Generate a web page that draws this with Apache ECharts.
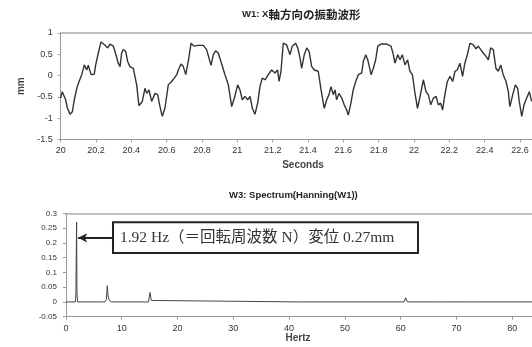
<!DOCTYPE html>
<html>
<head>
<meta charset="utf-8">
<script src="https://cdn.jsdelivr.net/npm/echarts@6.0.0/dist/echarts.min.js"></script>
<style>
  html, body { margin: 0; padding: 0; background: #fff; }
  #chart { width: 532px; height: 347px; }
</style>
</head>
<body>
<div id="chart"></div>
<script>
// W1: X-direction vibration waveform (time in seconds, displacement in mm)
const waveTime = [
  20.000, 20.009, 20.020, 20.028, 20.037, 20.053, 20.066, 20.077, 20.091, 20.104,
  20.119, 20.134, 20.147, 20.156, 20.172, 20.190, 20.198, 20.213, 20.228, 20.251,
  20.266, 20.279, 20.298, 20.307, 20.326, 20.336, 20.345, 20.354, 20.368, 20.379,
  20.392, 20.411, 20.430, 20.443, 20.462, 20.477, 20.487, 20.500, 20.515, 20.534,
  20.549, 20.562, 20.575, 20.590, 20.609, 20.628, 20.643, 20.657, 20.666, 20.681,
  20.694, 20.708, 20.722, 20.738, 20.756, 20.776, 20.807, 20.826, 20.851, 20.864,
  20.877, 20.892, 20.907, 20.930, 20.949, 20.968, 20.983, 21.002, 21.015, 21.028,
  21.043, 21.059, 21.072, 21.085, 21.100, 21.115, 21.128, 21.141, 21.157, 21.175,
  21.194, 21.213, 21.228, 21.236, 21.247, 21.260, 21.279, 21.298, 21.311, 21.330,
  21.342, 21.355, 21.364, 21.379, 21.393, 21.406, 21.421, 21.436, 21.458, 21.474,
  21.492, 21.506, 21.519, 21.530, 21.543, 21.553, 21.562, 21.575, 21.591, 21.605,
  21.619, 21.628, 21.643, 21.656, 21.670, 21.685, 21.704, 21.713, 21.727, 21.738,
  21.745, 21.757, 21.770, 21.783, 21.795, 21.813, 21.845, 21.870, 21.883, 21.892,
  21.908, 21.921, 21.934, 21.949, 21.964, 21.977, 21.991, 22.005, 22.020, 22.034,
  22.053, 22.068, 22.081, 22.095, 22.110, 22.125, 22.138, 22.151, 22.162, 22.175,
  22.189, 22.204, 22.219, 22.232, 22.245, 22.260, 22.275, 22.288, 22.302, 22.317,
  22.336, 22.351, 22.364, 22.378, 22.392, 22.408, 22.421, 22.434, 22.449, 22.464,
  22.477, 22.491, 22.505, 22.521, 22.534, 22.543, 22.559, 22.574, 22.587, 22.596,
  22.610, 22.623, 22.638, 22.653, 22.666
];
const waveMm = [
  -0.53, -0.38, -0.42, -0.57, -0.75, -0.91, -0.85, -0.57, -0.30, -0.14,
   0.02,  0.25,  0.13,  0.24,  0.02,  0.03,  0.25,  0.53,  0.79,  0.71,
   0.65,  0.74,  0.69,  0.57,  0.29,  0.21,  0.53,  0.61,  0.57,  0.33,
   0.21,  0.17, -0.22, -0.71, -0.61, -0.30, -0.42, -0.34, -0.61, -0.42,
  -0.45, -0.73, -0.96, -0.77, -0.22, -0.14, -0.06,  0.02,  0.13,  0.27,
   0.21,  0.02,  0.33,  0.76,  0.69,  0.71,  0.71,  0.61,  0.24,  0.49,
   0.58,  0.53,  0.33,  0.02, -0.22, -0.73, -0.53, -0.22, -0.34, -0.57,
  -0.49, -0.57, -0.49, -0.77, -0.91, -0.65, -0.26, -0.06, -0.10,  0.02,
   0.13,  0.06,  0.13, -0.14,  0.10,  0.76,  0.72,  0.49,  0.69,  0.76,
   0.65,  0.41,  0.17,  0.49,  0.65,  0.57,  0.21,  0.13,  0.10, -0.34,
  -0.77, -0.57, -0.45, -0.26, -0.45, -0.34, -0.57, -0.42, -0.53, -0.69,
  -0.81, -0.93, -0.65, -0.34, -0.14,  0.02,  0.06,  0.33,  0.49,  0.37,
   0.25,  0.02,  0.17,  0.37,  0.69,  0.74,  0.74,  0.69,  0.49,  0.29,
   0.49,  0.37,  0.49,  0.25,  0.37,  0.10,  0.02, -0.40, -0.77, -0.50,
  -0.10, -0.38, -0.45, -0.69, -0.53, -0.49, -0.69, -0.65, -0.81, -0.45,
  -0.14, -0.02, -0.14,  0.10,  0.13,  0.29, -0.02,  0.29,  0.49,  0.76,
   0.72,  0.63,  0.69,  0.61,  0.53,  0.45,  0.37,  0.65,  0.61,  0.17,
   0.10,  0.25,  0.02, -0.14, -0.38, -0.73, -0.45, -0.22, -0.30, -0.61,
  -0.96, -0.69, -0.53, -0.38, -0.61
];

// W3: Hanning-windowed spectrum of W1 (frequency in Hz, amplitude in mm)
const specHz = [
  0, 1.70, 1.80, 1.86, 1.92, 1.98, 2.10,
  5.40, 5.70, 6.00,
  7.00, 7.25, 7.42, 7.55, 7.80, 8.20,
  14.80, 15.07, 15.30, 15.60,
  41.80, 42.10, 42.40,
  60.60, 60.90, 61.20,
  66.60, 66.90, 67.20,
  72.70, 73.00, 73.30,
  90
];
const specAmp = [
  0, 0, 0.03, 0.16, 0.27, 0.03, 0,
  0, 0.004, 0,
  0, 0.008, 0.055, 0.02, 0.005, 0,
  0, 0.032, 0.005, 0,
  0, 0.003, 0,
  0, 0.014, 0,
  0, 0.002, 0,
  0, 0.002, 0,
  0
];

// Rotation frequency peak called out in the note
const peakHz = 1.92;
const peakAmp = 0.27;

// Axis ranges
const timeRange = { min: 20, max: 22.8, step: 0.2 };
const mmRange = { min: -1.5, max: 1, step: 0.5 };
const hzRange = { min: 0, max: 90, step: 10 };
const ampRange = { min: -0.05, max: 0.3, step: 0.05 };

// Note box and arrow anchors (data coordinates)
const noteBox = { hz: [8.44, 63.1], amp: [0.166, 0.27] };
const arrowAt = { fromHz: 8.44, toHz: 2.2, amp: 0.217 };

const AXIS_GREY = '#9a9a9a';
const TEXT = '#333';
const SANS = "'Liberation Sans', Arial, 'Noto Sans CJK JP', sans-serif";

function pairs(xs, ys) { return xs.map((x, i) => [x, ys[i]]); }

function valueX(gridIndex, range, nameText, gap, shift) {
  return {
    type: 'value', gridIndex, min: range.min, max: range.max, interval: range.step,
    name: nameText, nameLocation: 'middle', nameGap: gap,
    nameTextStyle: { fontFamily: SANS, fontSize: 10, fontWeight: 'bold', color: '#444', padding: [0, shift, 0, 0] },
    axisLine: { onZero: false, lineStyle: { color: AXIS_GREY, width: 1 } },
    axisTick: { show: true, length: 3, lineStyle: { color: AXIS_GREY } },
    axisLabel: { fontFamily: SANS, fontSize: 9, color: TEXT, margin: 7 },
    splitLine: { show: false }
  };
}
function frameTop(gridIndex, range) {
  return {
    type: 'value', gridIndex, position: 'top', min: range.min, max: range.max,
    axisLine: { onZero: false, lineStyle: { color: '#aaa', width: 1.5 } },
    axisTick: { show: false }, axisLabel: { show: false }, splitLine: { show: false }
  };
}
function valueY(gridIndex, range, fontSize, margin, extra) {
  return Object.assign({
    type: 'value', gridIndex, min: range.min, max: range.max, interval: range.step,
    axisLine: { show: true, lineStyle: { color: AXIS_GREY, width: 1 } },
    axisTick: { show: true, length: 3, lineStyle: { color: AXIS_GREY } },
    axisLabel: { fontFamily: SANS, fontSize, color: TEXT, margin },
    splitLine: { show: false }
  }, extra || {});
}

const chart = echarts.init(document.getElementById('chart'), null, { renderer: 'canvas' });

chart.setOption({
  animation: false,
  backgroundColor: '#fff',
  title: [
    {
      text: '{a|W1: X}{b|軸方向の振動波形}', left: 242, top: 9, padding: 0,
      textStyle: {
        rich: {
          a: { fontFamily: SANS, fontSize: 9.5, fontWeight: 'bold', color: '#222', verticalAlign: 'bottom', padding: [0, 0, 1, 0] },
          b: { fontFamily: "'Noto Sans CJK JP', sans-serif", fontSize: 11.5, fontWeight: 'bold', color: '#222', verticalAlign: 'bottom' }
        }
      }
    },
    {
      text: 'W3: Spectrum(Hanning(W1))', left: 229, top: 191, padding: 0,
      textStyle: { fontFamily: SANS, fontSize: 9.5, fontWeight: 'bold', color: '#222' }
    }
  ],
  grid: [
    { left: 60.7, top: 33, width: 494.6, height: 106.3, containLabel: false, outerBoundsMode: 'none' },
    { left: 65.9, top: 213.3, width: 502.2, height: 103.4, containLabel: false, outerBoundsMode: 'none' }
  ],
  xAxis: [
    valueX(0, timeRange, 'Seconds', 21, 10),
    valueX(1, hzRange, 'Hertz', 13, 38),
    frameTop(0, timeRange),
    frameTop(1, hzRange)
  ],
  yAxis: [
    valueY(0, mmRange, 9, 8, {
      name: 'mm', nameLocation: 'middle', nameGap: 29, nameRotate: 90,
      nameTextStyle: { fontFamily: SANS, fontSize: 10, fontWeight: 'bold', color: '#444' }
    }),
    valueY(1, ampRange, 8, 9)
  ],
  series: [
    {
      name: 'W1', type: 'line', xAxisIndex: 0, yAxisIndex: 0,
      data: pairs(waveTime, waveMm),
      showSymbol: false, symbol: 'none',
      lineStyle: { color: '#333', width: 1.4 },
      silent: true
    },
    {
      name: 'W3', type: 'line', xAxisIndex: 1, yAxisIndex: 1,
      data: pairs(specHz, specAmp),
      showSymbol: false, symbol: 'none',
      lineStyle: { color: '#444', width: 1 },
      silent: true,
      markArea: {
        silent: true,
        itemStyle: { color: '#fff', borderColor: '#222', borderWidth: 2 },
        label: {
          show: true, position: 'insideLeft', distance: 8,
          fontFamily: "'Liberation Serif', 'DejaVu Serif', 'Noto Sans CJK JP', serif",
          fontSize: 15.5, color: '#333'
        },
        data: [[
          { name: `${peakHz} Hz（＝回転周波数 N）変位 ${peakAmp}mm`, coord: [noteBox.hz[0], noteBox.amp[1]] },
          { coord: [noteBox.hz[1], noteBox.amp[0]] }
        ]]
      },
      markLine: {
        silent: true,
        symbol: ['none', 'arrow'],
        symbolSize: [7, 9],
        label: { show: false },
        lineStyle: { color: '#222', width: 2, type: 'solid' },
        data: [[
          { coord: [arrowAt.fromHz, arrowAt.amp] },
          { coord: [arrowAt.toHz, arrowAt.amp] }
        ]]
      }
    }
  ]
});
</script>
</body>
</html>
